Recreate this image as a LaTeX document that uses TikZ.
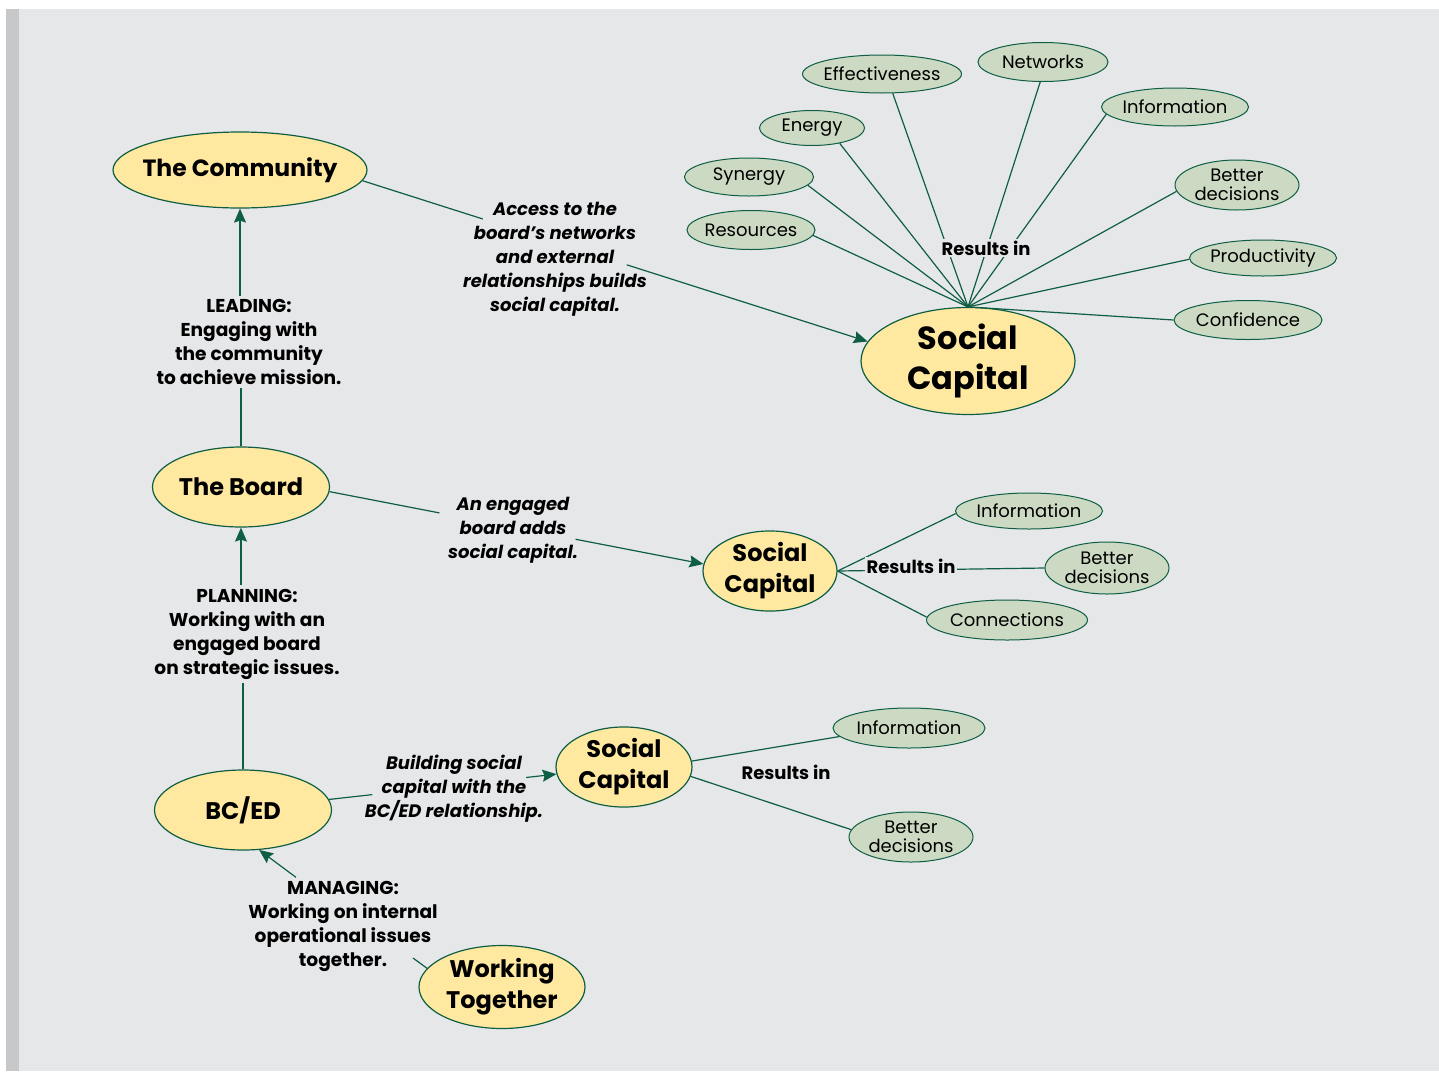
\documentclass[tikz,border=0pt]{standalone}
\usepackage{fontspec}
\setmainfont{Poppins}
\usetikzlibrary{shapes.geometric, arrows.meta, calc}

\definecolor{bgcol}{HTML}{E6E7E9}
\definecolor{stripcol}{HTML}{C7C8CA}
\definecolor{edgecol}{HTML}{0E5E44}
\definecolor{capfill}{HTML}{FFE9A1}
\definecolor{outfill}{HTML}{CCD9C3}

\tikzstyle{capital} = [ellipse, draw=edgecol, line width=1.2pt, fill=capfill,
    inner sep=0pt, align=center]
\tikzstyle{outcome} = [ellipse, draw=edgecol, line width=1pt, fill=outfill,
    inner sep=0pt, inner xsep=-6pt, align=center,
    font=\fontsize{18}{19}\selectfont]
\tikzstyle{role} = [font=\bfseries\fontsize{18.6}{24}\selectfont, align=center]
\tikzstyle{quote} = [font=\bfseries\itshape\fontsize{18}{24}\selectfont, align=center]
\tikzstyle{results} = [font=\bfseries\fontsize{18}{18}\selectfont, fill=bgcol, inner sep=2pt]
\tikzstyle{link} = [draw=edgecol, line width=1.2pt]
\tikzstyle{arrow} = [link, -{Stealth[length=14pt, width=12pt, inset=2pt]}]

\begin{document}
\begin{tikzpicture}[x=1pt, y=-1pt]

% Background
\fill[white] (0,0) rectangle (1439,1071);
\fill[stripcol] (6,9) rectangle (19,1071);
\fill[bgcol] (19,9) rectangle (1439,1071);
\useasboundingbox (0,0) rectangle (1439,1071);

% Main nodes
\node (comm) [capital, minimum width=254pt, minimum height=76pt, inner xsep=-12pt,
    font=\bfseries\fontsize{23.5}{28}\selectfont] at (240,170) {The Community};
\node (board) [capital, minimum width=177pt, minimum height=80pt,
    font=\bfseries\fontsize{24}{28}\selectfont] at (241,487) {The Board};
\node (bced) [capital, minimum width=177pt, minimum height=80pt,
    font=\bfseries\fontsize{24}{28}\selectfont] at (243,810) {BC/ED};
\node (wt) [capital, minimum width=166pt, minimum height=83pt,
    font=\bfseries\fontsize{24}{31}\selectfont] at (502,987) {Working\\Together};
\node (sc1) [capital, minimum width=214pt, minimum height=107pt,
    font=\bfseries\fontsize{32}{40}\selectfont] at (968,361) {Social\\Capital};
\node (sc2) [capital, minimum width=134pt, minimum height=78pt,
    font=\bfseries\fontsize{24}{31}\selectfont] at (770,571) {Social\\Capital};
\node (sc3) [capital, minimum width=136pt, minimum height=76pt,
    font=\bfseries\fontsize{24}{31}\selectfont] at (624,767) {Social\\Capital};

% Outcomes of the large social capital
\node (res) [outcome, minimum width=128pt, minimum height=39pt] at (751,230) {Resources};
\node (syn) [outcome, minimum width=129pt, minimum height=38pt] at (749,177) {Synergy};
\node (ene) [outcome, minimum width=105pt, minimum height=35pt] at (812,128) {Energy};
\node (eff) [outcome, minimum width=159pt, minimum height=38pt] at (882,74) {Effectiveness};
\node (net) [outcome, minimum width=130pt, minimum height=39pt] at (1043,62) {Networks};
\node (inf1) [outcome, minimum width=147pt, minimum height=38pt] at (1175,107) {Information};
\node (bd1) [outcome, minimum width=124pt, minimum height=50pt] at (1237,185) {Better\\decisions};
\node (pro) [outcome, minimum width=147pt, minimum height=36pt] at (1263,258) {Productivity};
\node (con) [outcome, minimum width=148pt, minimum height=39pt] at (1248,320) {Confidence};

% Outcomes of the middle social capital
\node (inf2) [outcome, minimum width=147pt, minimum height=36pt] at (1029,511) {Information};
\node (bd2) [outcome, minimum width=124pt, minimum height=52pt] at (1107,568) {Better\\decisions};
\node (conn) [outcome, minimum width=161pt, minimum height=40pt] at (1007,620) {Connections};

% Outcomes of the small social capital
\node (inf3) [outcome, minimum width=152pt, minimum height=40pt] at (909,728) {Information};
\node (bd3) [outcome, minimum width=124pt, minimum height=50pt] at (911,837) {Better\\decisions};

% Captions
\node (lead) [role] at (249,342) {LEADING:\\Engaging with\\the community\\to achieve mission.};
\node (plan) [role] at (247,634) {PLANNING:\\Working with an\\engaged board\\on strategic issues.};
\node (man) [role] at (343,926) {MANAGING:\\Working on internal\\operational issues\\together.};
\node (acc) [quote] at (555,259) {Access to the\\board’s networks\\and external\\relationships builds\\social capital.};
\node (eng) [quote] at (513,530) {An engaged\\board adds\\social capital.};
\node (bld) [quote] at (454,789) {Building social\\capital with the\\BC/ED relationship.};
\coordinate (mend) at (413,958);

% Arrows
\draw [arrow] (lead.north -| comm.south) -- (comm.south);
\draw [link] (board.north) -- (board.north |- lead.south);
\draw [arrow] (plan.north -| board.south) -- (board.south);
\draw [link] (bced.north) -- (bced.north |- plan.south);
\draw [arrow] (man.134) -- (bced.-68);
\draw [link] (mend) -- (wt.166);

\draw [link] (comm.-5) -- ($(comm.-5)!0.238!(sc1.169)$);
\draw [arrow] ($(comm.-5)!0.523!(sc1.169)$) -- (sc1.169);
\draw [link] (board.-3) -- ($(board.-3)!0.294!(sc2.174)$);
\draw [arrow] ($(board.-3)!0.658!(sc2.174)$) -- (sc2.174);
\draw [link] (bced.7) -- ($(bced.7)!0.19!(sc3.186)$);
\draw [arrow] ($(bced.7)!0.867!(sc3.186)$) -- (sc3.186);

% Results
\foreach \o/\a in {res/-5,syn/-8,ene/-29,eff/-61,net/-98,inf1/186,bd1/186,pro/181,con/180}
    \draw [link] (\o.\a) -- (sc1.north);
\node (r1) [results] at (986,248) {Results in};

\draw [link] (sc2.east) -- (inf2.182);
\draw [link] (sc2.east) -- (bd2.west);
\draw [link] (sc2.east) -- (conn.178);
\node (r2) [results] at (911,566) {Results in};

\draw [link] (sc3.5) -- (inf3.187);
\draw [link] (sc3.-8) -- (bd3.173);
\node (r3) [results] at (786,772) {Results in};

\end{tikzpicture}
\end{document}
